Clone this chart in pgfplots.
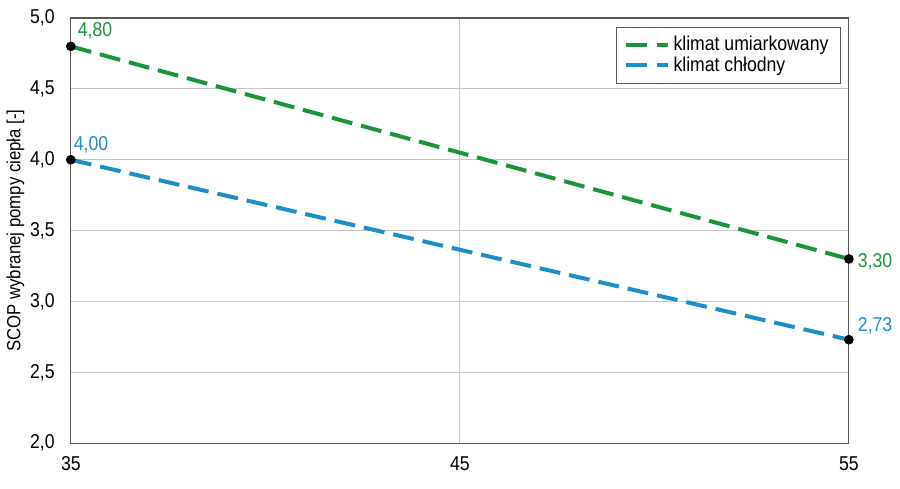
\documentclass[border=0pt]{standalone}
\usepackage{pgfplots}
\pgfplotsset{compat=1.18}
\usepackage{fontspec}
\setmainfont{Liberation Sans}[FakeStretch=0.88]
\definecolor{cgreen}{RGB}{28,148,62}
\definecolor{cblue}{RGB}{30,142,200}
\pgfplotsset{labelfmt/.style={nodes near coords,
  every node near coord/.append style={font=\fontsize{10}{11}\selectfont,
  /pgf/number format/fixed,/pgf/number format/fixed zerofill,/pgf/number format/precision=2,/pgf/number format/use comma}}}
\begin{document}
\begin{tikzpicture}
\begin{axis}[
  scale only axis,
  width=388pt, height=212pt,
  xmin=35, xmax=55, ymin=2, ymax=5,
  xtick={35,45,55}, ytick={2,2.5,...,5},
  yticklabel style={xshift=-4.5pt,/pgf/number format/.cd,fixed,fixed zerofill,precision=1,use comma},
  /pgf/number format/assume math mode=true,
  grid=major,
  grid style={gray!45,line width=0.5pt},
  axis line style={gray!70!black,line width=0.6pt},
  tick style={draw=none},
  ticklabel style={font=\fontsize{10}{12}\selectfont},
  xticklabel style={yshift=-3pt},
  ylabel={SCOP wybranej pompy ciepła [-]},
  ylabel style={font=\fontsize{9.5}{11}\selectfont, yshift=-4pt},
  legend style={at={(0.99,0.98)},anchor=north east,draw=gray!70!black,line width=0.6pt,
    font=\fontsize{10}{11}\selectfont, inner xsep=4pt, inner ysep=2.5pt, row sep=-2.5pt, cells={anchor=west}},
  legend image code/.code={\draw[#1,line width=2pt] (0cm,0cm) -- (0.72cm,0cm);},
  clip=false,
]
\addplot[cgreen,line width=2pt,dash pattern=on 10.5pt off 4.5pt] coordinates {(35,4.80) (55,3.30)};
\addlegendentry{klimat umiarkowany}
\addplot[cblue,line width=2pt,dash pattern=on 10.5pt off 4.5pt] coordinates {(35,4.00) (55,2.73)};
\addlegendentry{klimat chłodny}
\addplot[only marks,mark=*,mark size=2.2pt,black,forget plot,labelfmt,
  nodes near coords style={text=cgreen,anchor=south west,xshift=0pt,yshift=0pt}] coordinates {(35,4.80)};
\addplot[only marks,mark=*,mark size=2.2pt,black,forget plot,labelfmt,
  nodes near coords style={text=cblue,anchor=south west,xshift=-2pt,yshift=0pt}] coordinates {(35,4.00)};
\addplot[only marks,mark=*,mark size=2.2pt,black,forget plot,labelfmt,
  nodes near coords style={text=cgreen,anchor=west,xshift=1pt,yshift=-1.5pt}] coordinates {(55,3.30)};
\addplot[only marks,mark=*,mark size=2.2pt,black,forget plot,labelfmt,
  nodes near coords style={text=cblue,anchor=west,xshift=1pt,yshift=7pt}] coordinates {(55,2.73)};
\end{axis}
\path ([yshift=9pt]current axis.north west) ([xshift=25.5pt,yshift=-22.5pt]current axis.south east);
\end{tikzpicture}
\end{document}
